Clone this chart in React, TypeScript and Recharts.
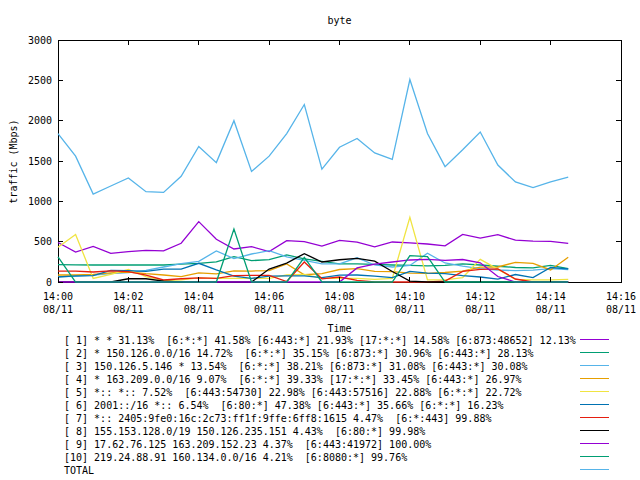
import React from 'react';
import { LineChart, Line, XAxis, YAxis, ReferenceArea } from 'recharts';

// sample times (every 30 s)
const times = [
  '14:00:00', '14:00:30', '14:01:00', '14:01:30', '14:02:00', '14:02:30',
  '14:03:00', '14:03:30', '14:04:00', '14:04:30', '14:05:00', '14:05:30',
  '14:06:00', '14:06:30', '14:07:00', '14:07:30', '14:08:00', '14:08:30',
  '14:09:00', '14:09:30', '14:10:00', '14:10:30', '14:11:00', '14:11:30',
  '14:12:00', '14:12:30', '14:13:00', '14:13:30', '14:14:00', '14:14:30',
];

// traffic in Mbps
const top1 = [490, 370, 442, 355, 376, 392, 386, 480, 748, 530, 409, 438, 376, 512, 500, 446, 516, 494, 436, 496, 485, 471, 448, 590, 543, 587, 518, 506, 504, 480];
const top2 = [215, 212, 211, 211, 211, 211, 211, 222, 232, 250, 314, 265, 277, 335, 287, 256, 225, 225, 219, 211, 205, 200, 205, 225, 211, 195, 180, 175, 205, 165];
const top3 = [66, 70, 87, 103, 116, 145, 186, 227, 256, 385, 290, 347, 388, 312, 268, 225, 225, 300, 211, 186, 205, 356, 236, 196, 165, 149, 140, 148, 167, 155];
const top4 = [87, 87, 95, 112, 124, 103, 87, 66, 112, 100, 138, 136, 142, 225, 90, 105, 155, 165, 132, 128, 110, 107, 118, 134, 184, 186, 244, 232, 149, 306];
const top5 = [430, 590, 45, 95, 157, 66, 17, 27, 50, 45, 45, 45, 45, 87, 95, 45, 45, 45, 33, 45, 802, 27, 27, 55, 281, 159, 33, 27, 27, 33];
const top6 = [62, 76, 80, 145, 140, 132, 159, 159, 232, 149, 74, 45, 74, 76, 76, 55, 84, 87, 72, 54, 132, 110, 104, 79, 62, 35, 93, 54, 180, 163];
const top7 = [136, 136, 124, 138, 129, 85, 25, 40, 50, 45, 78, 83, 83, 6, 248, 40, 62, 20, 2, 0, 0, 0, 12, 132, 157, 163, 37, 0, 0, 0];
const top8 = [0, 0, 0, 0, 40, 40, 10, 0, 0, 0, 0, 0, 160, 235, 352, 248, 276, 293, 258, 130, 10, 0, 0, 0, 0, 0, 0, 0, 0, 0];
const top9 = [0, 0, 0, 0, 0, 0, 0, 0, 0, 0, 0, 0, 0, 0, 0, 0, 0, 175, 222, 248, 273, 281, 268, 279, 238, 68, 0, 0, 0, 0];
const top10 = [310, 0, 0, 0, 0, 0, 0, 0, 0, 0, 655, 0, 0, 0, 305, 0, 0, 0, 0, 0, 326, 314, 0, 0, 0, 0, 0, 0, 0, 0];
const total = [1840, 1560, 1090, 1190, 1290, 1120, 1110, 1310, 1680, 1480, 2000, 1370, 1560, 1840, 2200, 1400, 1670, 1780, 1600, 1520, 2510, 1840, 1430, 1640, 1860, 1450, 1240, 1170, 1240, 1300];

const xTicks = [0, 2, 4, 6, 8, 10, 12, 14, 16];
const xTickLabels = ['14:00', '14:02', '14:04', '14:06', '14:08', '14:10', '14:12', '14:14', '14:16'];
const xTickDates = ['08/11', '08/11', '08/11', '08/11', '08/11', '08/11', '08/11', '08/11', '08/11'];
const yTicks = [0, 500, 1000, 1500, 2000, 2500, 3000];

const legendLabels = [
  '[ 1] * * 31.13%  [6:*:*] 41.58% [6:443:*] 21.93% [17:*:*] 14.58% [6:873:48652] 12.13%',
  '[ 2] * 150.126.0.0/16 14.72%  [6:*:*] 35.15% [6:873:*] 30.96% [6:443:*] 28.13%',
  '[ 3] 150.126.5.146 * 13.54%  [6:*:*] 38.21% [6:873:*] 31.08% [6:443:*] 30.08%',
  '[ 4] * 163.209.0.0/16 9.07%  [6:*:*] 39.33% [17:*:*] 33.45% [6:443:*] 26.97%',
  '[ 5] *:: *:: 7.52%  [6:443:54730] 22.98% [6:443:57516] 22.88% [6:*:*] 22.72%',
  '[ 6] 2001::/16 *:: 6.54%  [6:80:*] 47.38% [6:443:*] 35.66% [6:*:*] 16.23%',
  '[ 7] *:: 2405:9fe0:16c:2c73:ff1f:9ffe:6ff8:1615 4.47%  [6:*:443] 99.88%',
  '[ 8] 155.153.128.0/19 150.126.235.151 4.43%  [6:80:*] 99.98%',
  '[ 9] 17.62.76.125 163.209.152.23 4.37%  [6:443:41972] 100.00%',
  '[10] 219.24.88.91 160.134.0.0/16 4.21%  [6:8080:*] 99.76%',
  'TOTAL',
];

const seriesValues = [top1, top2, top3, top4, top5, top6, top7, top8, top9, top10, total];
const colors = ['#9400d3', '#009e73', '#56b4e9', '#e69f00', '#f0e442', '#0072b2', '#e51e10', '#000000', '#9400d3', '#009e73', '#56b4e9'];

const toMinutes = (s: string) => {
  const [h, m, sec] = s.split(':').map(Number);
  return (h - 14) * 60 + m + sec / 60;
};

const data = times.map((time, i) => {
  const row: Record<string, number> = { t: toMinutes(time) };
  seriesValues.forEach((vals, k) => { row['s' + k] = vals[i]; });
  return row;
});

const FONT = '"DejaVu Sans Mono", monospace';
const PLOT_TOP = 40;
const PLOT_RIGHT = 621;
const PLOT_LEFT = 58;
const PLOT_BOTTOM = 282;
const TICK = 5;

const XTick = (props: any) => {
  const { x, y, payload, index } = props;
  return (
    <g>
      <line x1={x} x2={x} y1={y} y2={y - TICK} stroke="#000" shapeRendering="crispEdges" />
      <line x1={x} x2={x} y1={PLOT_TOP} y2={PLOT_TOP + TICK} stroke="#000" shapeRendering="crispEdges" />
      <text x={x} y={y + 18} textAnchor="middle" fontFamily={FONT} fontSize={10} fill="#000">
        {xTickLabels[index] ?? payload.value}
      </text>
      <text x={x} y={y + 31} textAnchor="middle" fontFamily={FONT} fontSize={10} fill="#000">
        {xTickDates[index]}
      </text>
    </g>
  );
};

const YTick = (props: any) => {
  const { x, y, payload } = props;
  return (
    <g>
      <line x1={x} x2={x + TICK} y1={y} y2={y} stroke="#000" shapeRendering="crispEdges" />
      <line x1={PLOT_RIGHT - TICK} x2={PLOT_RIGHT} y1={y} y2={y} stroke="#000" shapeRendering="crispEdges" />
      <text x={x - 6} y={y + 3.5} textAnchor="end" fontFamily={FONT} fontSize={10} fill="#000">
        {payload.value}
      </text>
    </g>
  );
};

const textStyle: React.CSSProperties = {
  position: 'absolute',
  fontFamily: FONT,
  fontSize: 10,
  lineHeight: '13px',
  color: '#000',
  whiteSpace: 'pre',
};

export default function App() {
  return (
    <div style={{ position: 'absolute', left: 0, top: 0, width: 640, height: 480, background: '#fff', overflow: 'hidden' }}>
      <LineChart
        width={640}
        height={480}
        data={data}
        margin={{ top: PLOT_TOP, right: 640 - PLOT_RIGHT, bottom: 0, left: 0 }}
      >
        <XAxis
          type="number"
          dataKey="t"
          domain={[0, 16]}
          ticks={xTicks}
          height={480 - PLOT_BOTTOM}
          axisLine={false}
          tickLine={false}
          tickSize={0}
          tickMargin={0}
          interval={0}
          tick={<XTick />}
        />
        <YAxis
          type="number"
          domain={[0, 3000]}
          ticks={yTicks}
          width={PLOT_LEFT}
          axisLine={false}
          tickLine={false}
          tickSize={0}
          tickMargin={0}
          interval={0}
          tick={<YTick />}
        />
        <ReferenceArea x1={0} x2={16} y1={0} y2={3000} fill="none" stroke="#000" strokeWidth={1} fillOpacity={0} shapeRendering="crispEdges" />
        {seriesValues.map((_, k) => (
          <Line
            key={k}
            type="linear"
            dataKey={'s' + k}
            stroke={colors[k]}
            strokeWidth={1.3}
            dot={false}
            activeDot={false}
            isAnimationActive={false}
          />
        ))}
      </LineChart>

      <div style={{ ...textStyle, left: 239.5, width: 200, top: 14, textAlign: 'center' }}>byte</div>
      <div style={{ ...textStyle, left: 239.5, width: 200, top: 322, textAlign: 'center' }}>Time</div>
      <div
        style={{
          ...textStyle,
          left: 13 - 60,
          top: 161 - 6.5,
          width: 120,
          textAlign: 'center',
          transform: 'rotate(-90deg)',
        }}
      >
        traffic (Mbps)
      </div>

      {legendLabels.map((label, i) => (
        <React.Fragment key={label}>
          <div style={{ ...textStyle, left: 64, top: 334 + 13 * i }}>{label}</div>
          <div style={{ position: 'absolute', left: 580, width: 29, top: 339 + 13 * i, height: 1, background: colors[i] }} />
        </React.Fragment>
      ))}
    </div>
  );
}
